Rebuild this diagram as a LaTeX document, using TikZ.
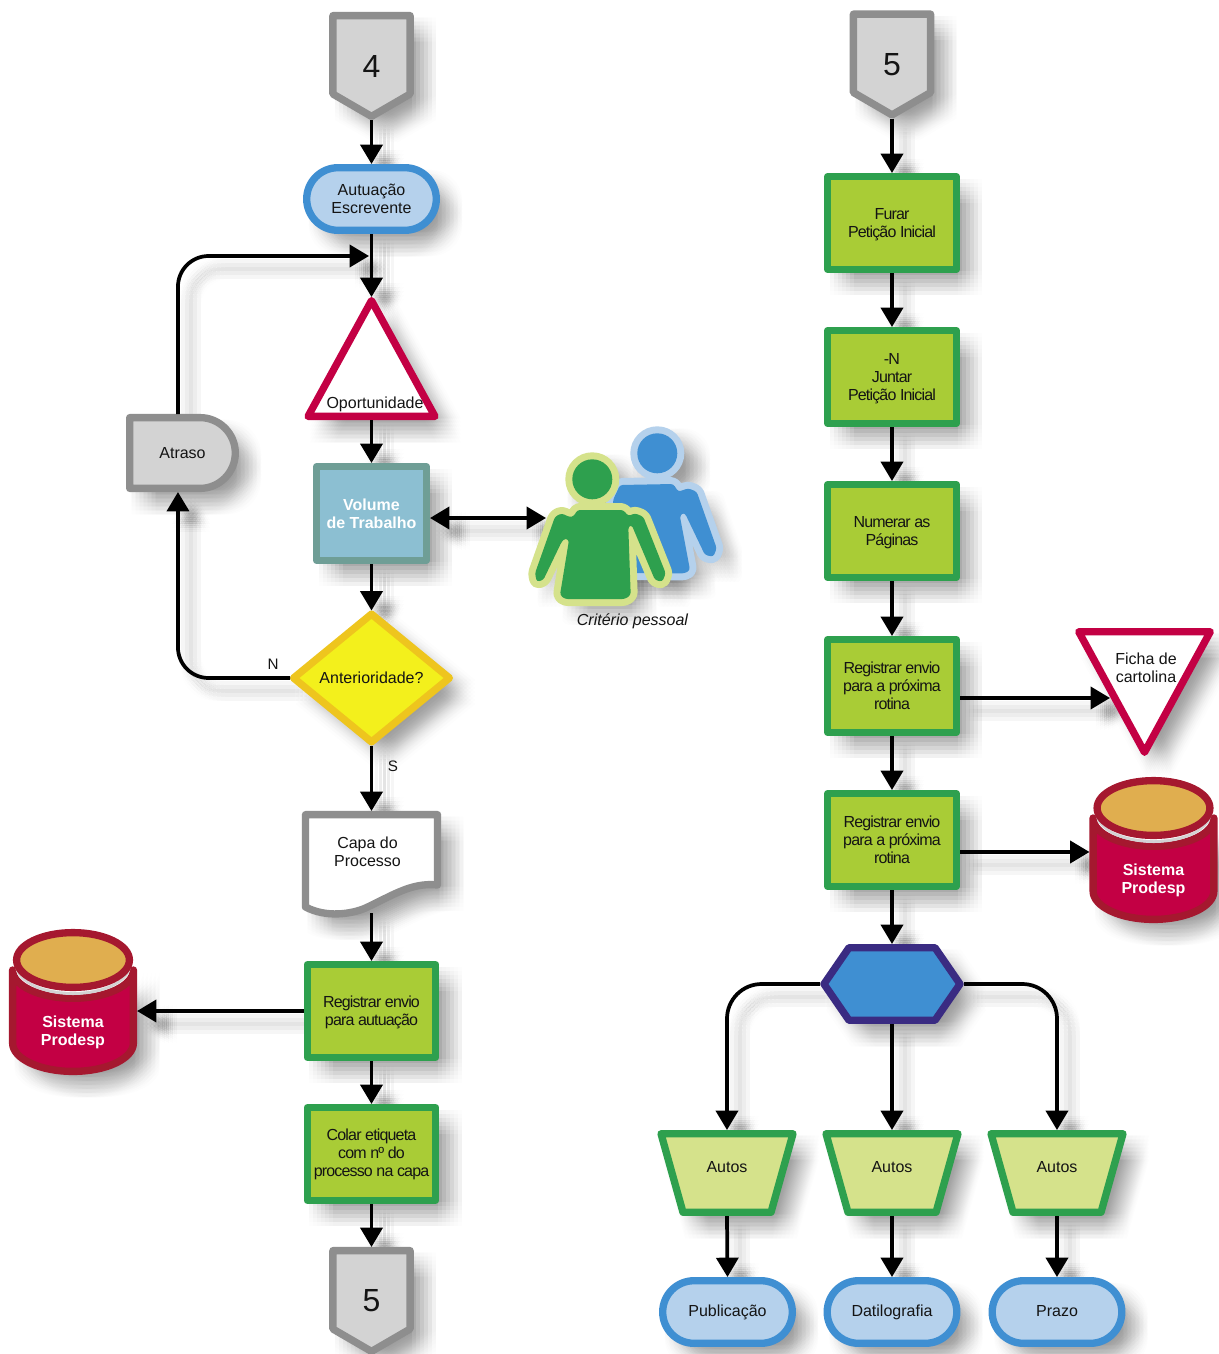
\documentclass[tikz,border=0pt]{standalone}
\usepackage{fontspec}
\setmainfont{Liberation Sans}
\newfontfamily\tightf[LetterSpace=-5.2]{Liberation Sans}
\usetikzlibrary{arrows.meta,calc}
\definecolor{cinzaB}{HTML}{8E8E8E}\definecolor{cinzaF}{HTML}{D3D3D3}
\definecolor{azulB}{HTML}{3F8FD2}\definecolor{azulF}{HTML}{B5D1EC}
\definecolor{rubi}{HTML}{C30044}\definecolor{rubiB}{HTML}{A5182F}\definecolor{ouro}{HTML}{E0AE4F}
\definecolor{tealB}{HTML}{6F9E96}\definecolor{tealF}{HTML}{8CBFD2}
\definecolor{amarB}{HTML}{EEC51E}\definecolor{amarF}{HTML}{F3F01C}
\definecolor{verdeB}{HTML}{2EA04E}\definecolor{verdeF}{HTML}{A9CC36}\definecolor{verdeL}{HTML}{D5E28B}
\definecolor{indigo}{HTML}{3A2B82}
\pgfdeclarelayer{bg}\pgfsetlayers{bg,main}
\tikzset{
  >={Triangle[length=14.5pt,width=16.5pt]},
  forma/.style={line width=5.5pt,line join=round},
  fcinza/.style={forma,draw=cinzaB,fill=cinzaF},
  fazul/.style={forma,draw=azulB,fill=azulF},
  frubi/.style={forma,draw=rubi,fill=white},
  fteal/.style={forma,draw=tealB,fill=tealF},
  famar/.style={forma,draw=amarB,fill=amarF},
  fverde/.style={forma,draw=verdeB,fill=verdeF},
  fclaro/.style={forma,draw=verdeB,fill=verdeL},
  fhex/.style={forma,draw=indigo,fill=azulB},
  fcorpo/.style={forma,draw=rubiB,fill=rubi},
  ftampa/.style={forma,draw=rubiB,fill=ouro},
  fbranco/.style={forma,draw=cinzaB,fill=white},
  rotulo/.style={inner sep=0pt,outer sep=0pt,align=center,text=black!92,font=\fontsize{12}{13.5}\selectfont},
  conn/.style={line width=2.8pt,draw=black},
}
% last line without its descender, so that the lines keep their place
\newcommand{\sd}[1]{\raisebox{0pt}[\height][0pt]{#1}}
% soft shadow of a shape, on the background layer
\newcommand{\sombra}[1]{\begin{pgfonlayer}{bg}
  \foreach \a in {-12,-8,...,12}{\foreach \b in {-12,-8,...,12}{
    \fill[black,opacity=.0085,shift={(14+\a,14+\b)}] #1;}}
\end{pgfonlayer}}
% [node options] name, cx, cy, outer w, outer h, style, path relative to the centre, text
\newcommand{\figura}[9][]{\begin{scope}[shift={(#3,#4)}]
  \sombra{#8}
  \path[#7] #8;
  \node[rotulo,minimum width=#5*.75pt,minimum height=#6*.75pt,#1] (#2) at (0,0) {#9};
\end{scope}}
\newcommand{\caixa}[4]{\figura[font=\tightf\fontsize{12}{13.5}\selectfont]{#1}{#2}{#3}{136}{100}{fverde}{(-64.3,-46.3) rectangle (64.3,46.3)}{#4}}
\newcommand{\pilula}[4]{\figura{#1}{#2}{#3}{137}{70}{fazul}{(-33.5,-31.3) -- (33.5,-31.3) arc[start angle=-90,end angle=90,radius=31.3] -- (-33.5,31.3) arc[start angle=90,end angle=270,radius=31.3] -- cycle}{#4}}
\newcommand{\pagina}[4]{\figura[font=\fontsize{24}{26}\selectfont]{#1}{#2}{#3}{84.5}{108}{fcinza}{(-38.6,-50.4) -- (38.6,-50.4) -- (38.6,28) -- (0,50.4) -- (-38.6,28) -- cycle}{#4}}
\newcommand{\trapezio}[3]{\figura{#1}{#2}{1173}{140}{86}{fclaro}{(-66,-39.3) -- (66,-39.3) -- (44,39.3) -- (-44,39.3) -- cycle}{\raisebox{9.5pt}{#3}}}
\newcommand{\cilindro}[3]{\figura{#1}{#2}{#3}{128}{146}{fcorpo}{(60.4,-32) arc[start angle=0,end angle=180,x radius=60.4,y radius=28.3] -- (-60.4,41) arc[start angle=180,end angle=0,x radius=60.4,y radius=28.4] -- cycle}{}%
  \begin{scope}[shift={(#2,#3)}]
    \fill[cinzaF] (0,-37) ellipse[x radius=58,y radius=30];
    \fill[white] (0,-40) ellipse[x radius=58,y radius=30];
    \path[ftampa] (0,-42) ellipse[x radius=56.4,y radius=27.4];
    \node[rotulo,font=\fontsize{12}{13.5}\selectfont\bfseries,text=white] (#1t) at (0,30.5) {Sistema\\Prodesp};
  \end{scope}}
\newcommand{\conector}[2][->]{\begin{pgfonlayer}{bg}
  \foreach \a in {-9,-5,-5,-1,-1,-1,3,3,7}{\foreach \b in {-9,-5,-5,-1,-1,-1,3,3,7}{
    \draw[conn,opacity=.0035,#1,transform canvas={xshift={(14+\a)*.75pt},yshift={-(14+\b)*.75pt}}] #2;}}
\end{pgfonlayer}
\draw[conn,#1] #2;}
\begin{document}
\begin{tikzpicture}[x=.75pt,y=-.75pt]
\useasboundingbox (0,0) rectangle (1219,1354);
\begin{pgfonlayer}{bg}\fill[white] (0,0) rectangle (1219,1354);\end{pgfonlayer}

% ---------- left column
\pagina{n4}{371.5}{66}{4}
\pilula{aut}{371.5}{199}{Autuação\\Escrevente}
\figura{opo}{371.5}{358.5}{135}{123}{frubi}{(0,-57.9) -- (63.5,57.9) -- (-63.5,57.9) -- cycle}{}
\node[rotulo] (opot) at (375,404) {Oportunidade};
\figura[font=\fontsize{12}{13.5}\selectfont\bfseries,text=white]{vol}{371.5}{513.5}{117}{101}{fteal}{(-54.8,-46.8) rectangle (54.8,46.8)}{Volume\\de Trabalho}
\figura{ant}{371.5}{678}{163}{135}{famar}{(-77.9,0) -- (0,-63.9) -- (77.9,0) -- (0,63.9) -- cycle}{\raisebox{-2pt}{Anterioridade?}}
\figura{atr}{182.5}{453}{113}{78}{fcinza}{(-52.8,-35.4) -- (17.4,-35.4) arc[start angle=-90,end angle=90,radius=35.4] -- (-52.8,35.4) -- cycle}{\raisebox{-2pt}{Atraso}}
\figura{doc}{371.5}{864}{140}{106}{fbranco}{(-66,-49.4) -- (66,-49.4) -- (66,21) .. controls (40,18) and (20,32) .. (-6,44) .. controls (-20,50) and (-45,54) .. (-66,43) -- cycle}{}
\node[rotulo] (doct) at (367.5,851.5) {Capa do\\Processo};
\caixa{reg}{371.5}{1011}{Registrar envio\\\sd{para autuação}}
\caixa{col}{371.5}{1154}{Colar etiqueta\\com nº do\\processo na capa}
\pagina{n5}{371.5}{1301}{5}
\cilindro{cil}{73}{1002}

% ---------- people
\node[rotulo,minimum width=178*.75pt,minimum height=10pt] (pes) at (635,518) {};
\def\corpoA{(620,485) -- (673.3,484) -- (678.3,491.7) -- (688.3,488.3) -- (696.7,491.7) -- (716.7,548.3) -- (713.3,556.7) -- (705,555) -- (685,513.3) -- (681.7,513.3) -- (680,516.7) -- (690,570) -- (685,573.3) -- (615,573) -- (613,500) -- cycle}
\def\corpoV{(574,516) -- (577.3,510) -- (623.3,510) -- (628.3,516) -- (635,513.3) -- (643.3,516.7) -- (665.7,573.3) -- (662.3,581.7) -- (655,580) -- (631.7,525) -- (628.3,526.7) -- (630.7,595) -- (625,599) -- (565,599) -- (560,595) -- (569,540) -- (565,538.3) -- (561.7,541.7) -- (543.3,580) -- (536.7,581.7) -- (535,573.3) -- (555,516.7) -- (561.7,513.3) -- (570,517.3) -- cycle}
\sombra{(657.3,453.3) circle[radius=27]}
\sombra{[rounded corners=2pt] \corpoA}
\sombra{(592.3,479.3) circle[radius=27]}
\sombra{[rounded corners=2pt] \corpoV}
\path[draw=azulF,fill=azulF,line width=10.5pt,line join=round,rounded corners=2pt] \corpoA;
\fill[azulB,rounded corners=2pt] \corpoA;
\fill[azulF] (657.3,453.3) circle[radius=27];
\fill[azulB] (657.3,453.3) circle[radius=20];
\path[draw=verdeL,fill=verdeL,line width=10.5pt,line join=round,rounded corners=2pt] \corpoV;
\fill[verdeB,rounded corners=2pt] \corpoV;
\fill[verdeL] (592.3,479.3) circle[radius=27];
\fill[verdeB] (592.3,479.3) circle[radius=20];
\node[rotulo,font=\fontsize{12}{13.5}\selectfont\itshape] (crit) at (632.5,621.5) {Critério pessoal};

% ---------- right column
\pagina{m5}{892}{64.5}{5}
\caixa{b1}{892}{223}{Furar\\\sd{Petição Inicial}}
\caixa{b2}{892}{377}{-N\\Juntar\\\sd{Petição Inicial}}
\caixa{b3}{892}{531}{Numerar as\\\sd{Páginas}}
\caixa{b4}{892}{686}{Registrar envio\\para a próxima\\rotina}
\caixa{b5}{892}{840}{Registrar envio\\para a próxima\\rotina}
\figura{fic}{1144.5}{692}{139}{128}{frubi}{(-65.8,-60.3) -- (65.8,-60.3) -- (0,60.3) -- cycle}{}
\node[rotulo] (fict) at (1146,668) {Ficha de\\cartolina};
\cilindro{cid}{1153.5}{850}
\figura{hex}{892}{984}{144}{80}{fhex}{(-68,0) -- (-43,-36.3) -- (43,-36.3) -- (68,0) -- (43,36.3) -- (-43,36.3) -- cycle}{}
\trapezio{t1}{727}{Autos}
\trapezio{t2}{892}{Autos}
\trapezio{t3}{1057}{Autos}
\pilula{p1}{727.5}{1312}{Publicação}
\pilula{p2}{892}{1312}{Datilografia}
\pilula{p3}{1057}{1312}{Prazo\rule[-1.5pt]{0pt}{1.5pt}}

% ---------- labels
\node[rotulo,font=\fontsize{11.4}{13}\selectfont] (lbn) at (273,664.5) {N};
\node[rotulo,font=\fontsize{11.4}{13}\selectfont] (lbs) at (393,766.5) {S};

% ---------- connectors
\coordinate (volta) at (369,256);
\conector{(n4.south) -- (aut.north)}
\conector{(aut.south) -- (opo.north)}
\conector{(opo.south) -- (vol.north)}
\conector{(vol.south) -- (ant.north)}
\conector{(ant.south) -- (doc.north)}
\conector{([yshift=3pt]doc.south) -- (reg.north)}
\conector{(reg.south) -- (col.north)}
\conector{(col.south) -- (n5.north)}
\conector{(reg.west) -- (reg.west -| cil.east)}
\conector[<->]{(vol.east |- pes.west) -- (pes.west)}
\conector{[rounded corners=23pt] ([xshift=-3.4pt]atr.north) |- (volta)}
\conector{[rounded corners=23pt] (ant.west) -| ([xshift=-3.4pt]atr.south)}
\conector{(m5.south) -- (b1.north)}
\conector{(b1.south) -- (b2.north)}
\conector{(b2.south) -- (b3.north)}
\conector{(b3.south) -- (b4.north)}
\conector{(b4.south) -- (b5.north)}
\conector{(b5.south) -- (hex.north)}
\conector{([yshift=-9pt]b4.east) -- ++(150,0)}
\conector{([yshift=-9pt]b5.east) -- ([yshift=-9pt]b5.east -| cid.west)}
\conector{[rounded corners=26pt] (hex.west) -| (t1.north)}
\conector{(hex.south) -- (t2.north)}
\conector{[rounded corners=26pt] (hex.east) -| (t3.north)}
\conector{(t1.south) -- (p1.north)}
\conector{(t2.south) -- (p2.north)}
\conector{(t3.south) -- (p3.north)}
\end{tikzpicture}
\end{document}
